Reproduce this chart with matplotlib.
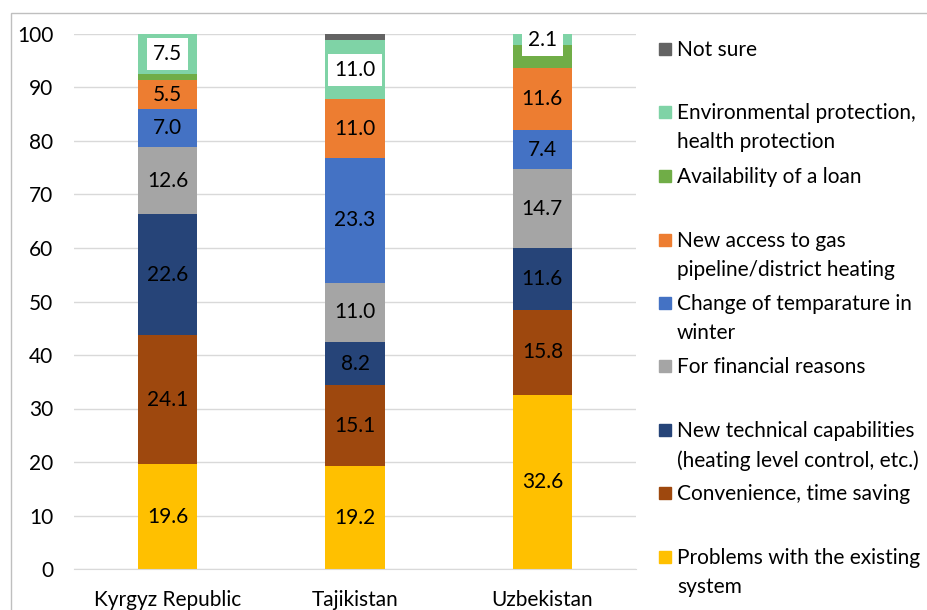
import matplotlib.pyplot as plt
import numpy as np
from matplotlib.patches import Rectangle

countries = ["Kyrgyz Republic", "Tajikistan", "Uzbekistan"]

categories = [
    "Problems with the existing\nsystem",
    "Convenience, time saving",
    "New technical capabilities\n(heating level control, etc.)",
    "For financial reasons",
    "Change of temparature in\nwinter",
    "New access to gas\npipeline/district heating",
    "Availability of a loan",
    "Environmental protection,\nhealth protection",
    "Not sure",
]

problems = [19.6, 19.2, 32.6]
convenience = [24.1, 15.1, 15.8]
technical = [22.6, 8.2, 11.6]
financial = [12.6, 11.0, 14.7]
temperature = [7.0, 23.3, 7.4]
gas_access = [5.5, 11.0, 11.6]
loan = [1.1, 0.0, 4.2]
environment = [7.5, 11.0, 2.1]
not_sure = [0.0, 1.2, 0.0]

series = [problems, convenience, technical, financial, temperature,
          gas_access, loan, environment, not_sure]
colors = ["#FFC000", "#9E480E", "#264478", "#A5A5A5", "#4472C4",
          "#ED7D31", "#70AD47", "#7FD3A6", "#636363"]
show_labels = [True, True, True, True, True, True, False, True, False]

plt.rcParams["font.family"] = ["Lato", "DejaVu Sans"]

fig = plt.figure(figsize=(9.28, 6.10), dpi=100)
ax = fig.add_axes([74 / 928, 1 - 569 / 610, (636 - 74) / 928, (569 - 34) / 610])

x = np.arange(len(countries))
bottom = np.zeros(len(countries))
for vals, col, lab_on in zip(series, colors, show_labels):
    vals = np.array(vals)
    ax.bar(x, vals, 0.315, bottom=bottom, color=col, zorder=2)
    if lab_on:
        for xi, v, b in zip(x, vals, bottom):
            if v <= 0:
                continue
            kw = {}
            if col == "#7FD3A6":
                kw["bbox"] = dict(boxstyle="square,pad=0.3", fc="white", ec="none")
            ax.text(xi, b + v / 2, f"{v:.1f}", ha="center", va="center",
                    fontsize=15, color="black", zorder=3, **kw)
    bottom += vals

ax.set_xlim(-0.5, 2.5)
ax.set_ylim(0, 100)
ax.set_yticks(range(0, 101, 10))
ax.set_xticks(x)
ax.set_xticklabels(countries)
ax.tick_params(axis="both", length=0, labelsize=15, colors="black")
ax.tick_params(axis="y", pad=15)
ax.tick_params(axis="x", pad=15)
ax.grid(axis="y", color="#D9D9D9", linewidth=1, zorder=0)
for s in ["top", "right", "left"]:
    ax.spines[s].set_visible(False)
ax.spines["bottom"].set_color("#D9D9D9")

# legend drawn by hand, top to bottom in reverse stacking order
leg_y = [49, 112, 176, 240, 303, 366, 430, 493, 557]
for yy, lab, col in zip(leg_y, categories[::-1], colors[::-1]):
    fig.patches.append(Rectangle((659 / 928, 1 - (yy + 6) / 610), 12 / 928, 12 / 610,
                                 transform=fig.transFigure, color=col))
    fig.text(677 / 928, 1 - (yy - 9) / 610, lab, fontsize=15, va="top", ha="left",
             linespacing=1.58)

# outer frame like the source picture
fig.patches.append(Rectangle((11 / 928, -0.05), 1.1, 1 - 13 / 610 + 0.05,
                             transform=fig.transFigure, fill=False,
                             edgecolor="#BFBFBF", linewidth=1))

fig.savefig("out.png", dpi=100)
